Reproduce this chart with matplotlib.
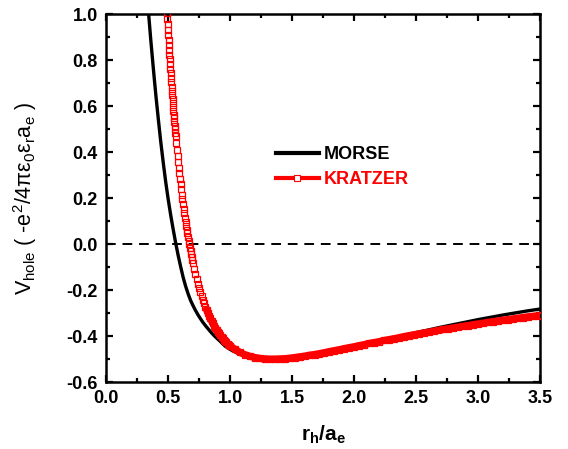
import matplotlib
matplotlib.use('Agg')
import matplotlib.pyplot as plt
from matplotlib.lines import Line2D
from matplotlib.ticker import MultipleLocator

plt.rcParams['font.family'] = ['Liberation Sans', 'DejaVu Sans']
plt.rcParams['font.weight'] = 'bold'
plt.rcParams['mathtext.default'] = 'regular'
plt.rcParams['axes.unicode_minus'] = False

# Morse potential for the hole, read point by point
morse_r = [0.34, 0.35, 0.36, 0.37, 0.38, 0.39, 0.40, 0.42, 0.44, 0.46, 0.48,
           0.50, 0.52, 0.54, 0.56, 0.58, 0.60, 0.62, 0.64, 0.66, 0.68, 0.70,
           0.72, 0.74, 0.76, 0.78, 0.80, 0.82, 0.84, 0.86, 0.88, 0.90, 0.92,
           0.94, 0.96, 1.00, 1.05, 1.10, 1.15, 1.20, 1.25, 1.30, 1.35, 1.40,
           1.50, 1.60, 1.70, 1.80, 1.90, 2.00, 2.10, 2.20, 2.30, 2.40, 2.50,
           2.60, 2.70, 2.80, 2.90, 3.00, 3.10, 3.20, 3.30, 3.40, 3.50]
morse_v = [1.015, 0.950, 0.885, 0.825, 0.765, 0.707, 0.650, 0.545, 0.445,
           0.355, 0.270, 0.195, 0.127, 0.065, 0.006, -0.048, -0.097, -0.143,
           -0.182, -0.215, -0.244, -0.267, -0.288, -0.307, -0.324, -0.340,
           -0.354, -0.367, -0.380, -0.392, -0.403, -0.413, -0.423, -0.434,
           -0.444, -0.458, -0.472, -0.483, -0.491, -0.496, -0.499, -0.500,
           -0.500, -0.499, -0.494, -0.486, -0.477, -0.467, -0.456, -0.445,
           -0.433, -0.421, -0.409, -0.397, -0.385, -0.373, -0.361, -0.350,
           -0.339, -0.328, -0.318, -0.308, -0.299, -0.290, -0.282]

# Kratzer potential, sampled densely where it is steep
kratzer_r = [0.4900, 0.4925, 0.4950, 0.4975, 0.5000, 0.5025, 0.5050, 0.5075,
             0.5100, 0.5125, 0.5150, 0.5175, 0.5200, 0.5225, 0.5250, 0.5275,
             0.5300, 0.5325, 0.5350, 0.5375, 0.5400, 0.5425, 0.5450, 0.5475,
             0.5500, 0.5525, 0.5550, 0.5575, 0.5600,
             0.565, 0.570, 0.575, 0.580, 0.585, 0.590, 0.595, 0.600, 0.605,
             0.610, 0.615, 0.620, 0.625, 0.630, 0.635, 0.640, 0.645, 0.650,
             0.655, 0.660, 0.665, 0.670, 0.675, 0.680, 0.685, 0.690, 0.695,
             0.700,
             0.71, 0.72, 0.73, 0.74, 0.75, 0.76, 0.77, 0.78, 0.79, 0.80, 0.81,
             0.82, 0.83, 0.84, 0.85, 0.86, 0.87, 0.88, 0.89, 0.90, 0.91, 0.92,
             0.93, 0.94, 0.95, 0.96, 0.97, 0.98, 0.99, 1.00,
             1.04, 1.08, 1.12, 1.16, 1.20, 1.24, 1.28, 1.32, 1.36, 1.40, 1.44,
             1.48, 1.52, 1.56, 1.60, 1.64, 1.68, 1.72, 1.76, 1.80, 1.84, 1.88,
             1.92, 1.96, 2.00, 2.04, 2.08, 2.12, 2.16, 2.20, 2.24, 2.28, 2.32,
             2.36, 2.40, 2.44, 2.48, 2.52, 2.56, 2.60, 2.64, 2.68, 2.72, 2.76,
             2.80, 2.84, 2.88, 2.92, 2.96, 3.00, 3.04, 3.08, 3.12, 3.16, 3.20,
             3.24, 3.28, 3.32, 3.36, 3.40, 3.44, 3.48, 3.50]
kratzer_v = [1.005, 0.981, 0.957, 0.934, 0.911, 0.889, 0.867, 0.845, 0.824,
             0.804, 0.783, 0.763, 0.743, 0.724, 0.705, 0.686, 0.668, 0.650,
             0.632, 0.615, 0.597, 0.581, 0.564, 0.548, 0.532, 0.516, 0.500,
             0.485, 0.470,
             0.441, 0.412, 0.385, 0.359, 0.333, 0.308, 0.284, 0.261, 0.238,
             0.216, 0.195, 0.174, 0.154, 0.135, 0.116, 0.098, 0.081, 0.063,
             0.047, 0.031, 0.015, 0.000, -0.015, -0.029, -0.043, -0.056,
             -0.069, -0.082,
             -0.106, -0.129, -0.151, -0.171, -0.191, -0.209, -0.226, -0.242,
             -0.258, -0.272, -0.286, -0.299, -0.311, -0.323, -0.334, -0.344,
             -0.354, -0.363, -0.372, -0.380, -0.388, -0.396, -0.403, -0.409,
             -0.416, -0.422, -0.427, -0.433, -0.438, -0.442,
             -0.458, -0.471, -0.481, -0.488, -0.493, -0.497, -0.499, -0.500,
             -0.500, -0.499, -0.498, -0.496, -0.493, -0.490, -0.487, -0.483,
             -0.480, -0.476, -0.472, -0.467, -0.463, -0.459, -0.454, -0.450,
             -0.446, -0.441, -0.437, -0.432, -0.428, -0.424, -0.419, -0.415,
             -0.411, -0.407, -0.402, -0.398, -0.394, -0.390, -0.386, -0.383,
             -0.379, -0.375, -0.371, -0.368, -0.364, -0.361, -0.357, -0.354,
             -0.350, -0.347, -0.344, -0.340, -0.337, -0.334, -0.331, -0.328,
             -0.325, -0.322, -0.319, -0.316, -0.314, -0.311, -0.310]

fig = plt.figure(figsize=(5.68, 4.49), dpi=100)
ax = fig.add_axes([0.187, 0.149, 0.764, 0.819])

ax.axhline(0.0, color='black', lw=1.4, ls=(0, (5, 3.5)), zorder=1)
ax.plot(morse_r, morse_v, color='black', lw=2.4, zorder=2)

# the open squares pile up into a solid band once the curve flattens
flat = kratzer_r.index(0.80)
ax.plot(kratzer_r[flat:], kratzer_v[flat:], color='red', lw=5.2,
        solid_capstyle='butt', zorder=3)
ax.plot(kratzer_r, kratzer_v, ls='none', marker='s', ms=4.5,
        mfc='none', mec='red', mew=0.9, zorder=4)

ax.set_xlim(0.0, 3.5)
ax.set_ylim(-0.6, 1.0)
ax.xaxis.set_major_locator(MultipleLocator(0.5))
ax.xaxis.set_minor_locator(MultipleLocator(0.25))
ax.yaxis.set_major_locator(MultipleLocator(0.2))
ax.yaxis.set_minor_locator(MultipleLocator(0.1))
ax.tick_params(which='both', direction='in', top=True, right=True, width=1.6)
ax.tick_params(which='major', length=5, labelsize=13, pad=6)
ax.tick_params(which='minor', length=3)
for side in ax.spines.values():
    side.set_linewidth(1.8)

ax.set_xlabel(r'r$_{h}$/a$_{e}$', fontsize=15, fontweight='bold', labelpad=12)
ax.set_ylabel(r'V$_{hole}$ ( -e$^{2}$/4πε$_{0}$ε$_{r}$a$_{e}$ )',
              fontsize=15.5, fontweight='normal', labelpad=20)

handles = [Line2D([], [], color='black', lw=3),
           Line2D([], [], color='red', lw=3, marker='s', ms=4.2,
                  mfc='white', mec='red', mew=0.8)]
leg = ax.legend(handles, ['MORSE', 'KRATZER'], loc='center left',
                bbox_to_anchor=(0.37, 0.585), frameon=False, fontsize=13,
                handlelength=2.4, handletextpad=0.25, labelspacing=0.45,
                borderpad=0, numpoints=1)
for t, c in zip(leg.get_texts(), ['black', 'red']):
    t.set_fontweight('bold')
    t.set_color(c)

fig.savefig('out.png', dpi=100)
